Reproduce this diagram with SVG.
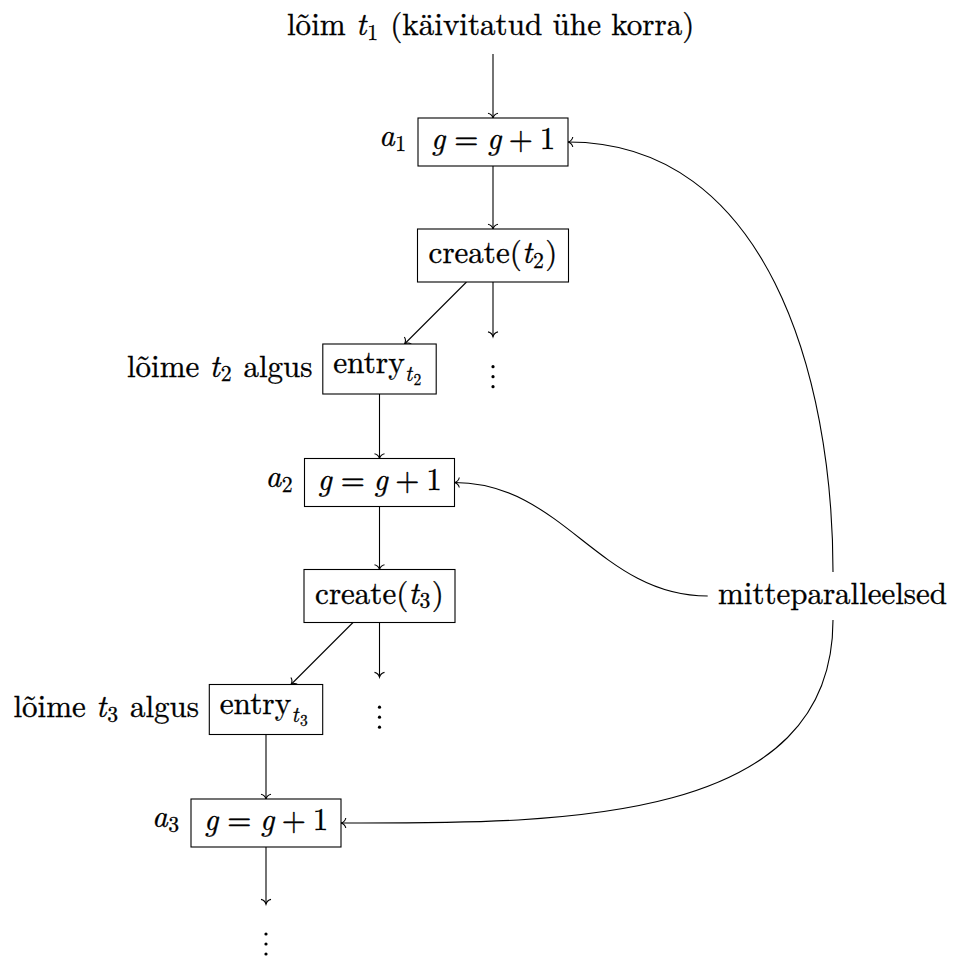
<svg xmlns="http://www.w3.org/2000/svg" width="953" height="958" viewBox="0 0 953 958" font-family="Latin Modern Roman, Liberation Serif, serif">
  <defs>
    <!-- open curved "to" arrow tip; tip sits on the path end -->
    <marker id="to" markerUnits="userSpaceOnUse" viewBox="-6 -6 7 12" refX="0" refY="0" markerWidth="7" markerHeight="12" orient="auto" overflow="visible">
      <path d="M -4.8,-5 C -4.2,-2.2 -1.8,-0.5 0,0 C -1.8,0.5 -4.2,2.2 -4.8,5" fill="none" stroke="#000" stroke-width="1.1"/>
    </marker>
  </defs>
  <style>
    text { font-family: Latin Modern Roman, Liberation Serif, serif; font-size: 31px; fill: #000; stroke: #000; stroke-width: 0.35px; }
    .m { font-style: italic; }
    .s { font-size: 21.7px; stroke-width: 0.3px; }
    .ss { font-size: 15.5px; stroke-width: 0.3px; }
    .box { fill: #fff; stroke: #000; stroke-width: 1.1; }
    .edge { fill: none; stroke: #000; stroke-width: 1.1; marker-end: url(#to); }
    .dot { fill: #000; }
  </style>
  <rect width="953" height="958" fill="#fff"/>

  <!-- connectors -->
  <g id="edges">
    <path class="edge" d="M493,54 V118"/>
    <path class="edge" d="M493,166 V229"/>
    <path class="edge" d="M466.5,282 L404.5,344"/>
    <path class="edge" d="M493,282 V336.7"/>
    <path class="edge" d="M379.5,394 V458.5"/>
    <path class="edge" d="M379.5,506.5 V569.5"/>
    <path class="edge" d="M353,622.5 L291,684.5"/>
    <path class="edge" d="M379.5,622.5 V677.2"/>
    <path class="edge" d="M266,734.5 V799"/>
    <path class="edge" d="M266,847 V904.2"/>
    <path class="edge" d="M833,572 C833,374.3 766,142 568,142"/>
    <path class="edge" d="M707.7,596 C599.1,596 563.1,482.5 454.5,482.5"/>
    <path class="edge" d="M833,620 C833,828.4 549.4,823 341,823"/>
  </g>

  <!-- thread title -->
  <g id="title">
    <text x="287" y="35" textLength="58.6" lengthAdjust="spacingAndGlyphs">lõim</text>
    <text class="m" x="356" y="35">t</text>
    <text class="s" x="367.3" y="39.6">1</text>
    <text x="390.2" y="35" textLength="304.2" lengthAdjust="spacingAndGlyphs">(käivitatud ühe korra)</text>
  </g>

  <!-- a1 : g = g + 1 -->
  <g id="a1" transform="translate(493,142)">
    <rect class="box" x="-75" y="-24" width="150" height="48"/>
    <text class="m" x="-62.1" y="7">g</text>
    <text x="-38.7" y="7">=</text>
    <text class="m" x="-6" y="7">g</text>
    <text x="15.7" y="7">+</text>
    <text x="46.7" y="7">1</text>
    <text class="m" x="-114.1" y="4.4">a</text>
    <text class="s" x="-97.7" y="9">1</text>
  </g>

  <!-- create(t2) -->
  <g id="create2" transform="translate(493,255.5)">
    <rect class="box" x="-75.5" y="-26.5" width="151" height="53"/>
    <text x="-64.4" y="7.75" textLength="93.1" lengthAdjust="spacingAndGlyphs">create(</text>
    <text class="m" x="29" y="7.75">t</text>
    <text class="s" x="40" y="12.4">2</text>
    <text x="52.3" y="7.75">)</text>
  </g>

  <!-- continuation after create(t2) -->
  <g id="cont1">
    <circle class="dot" cx="493" cy="366.7" r="1.6"/>
    <circle class="dot" cx="493" cy="376.7" r="1.6"/>
    <circle class="dot" cx="493" cy="386.7" r="1.6"/>
  </g>

  <!-- entry of t2 -->
  <g id="entry2" transform="translate(379.5,369)">
    <rect class="box" x="-56.7" y="-25" width="113.4" height="50"/>
    <text x="-46.35" y="4.4" textLength="71.6" lengthAdjust="spacingAndGlyphs">entry</text>
    <text class="m s" x="25.5" y="12.4">t</text>
    <text class="ss" x="34" y="16">2</text>
    <text x="-252.6" y="7.75" textLength="72.3" lengthAdjust="spacingAndGlyphs">lõime</text>
    <text class="m" x="-170" y="7.75">t</text>
    <text class="s" x="-158.8" y="12.4">2</text>
    <text x="-136.1" y="7.75" textLength="69.1" lengthAdjust="spacingAndGlyphs">algus</text>
  </g>

  <!-- a2 : g = g + 1 -->
  <g id="a2" transform="translate(379.5,482.5)">
    <rect class="box" x="-75" y="-24" width="150" height="48"/>
    <text class="m" x="-62.1" y="7">g</text>
    <text x="-38.7" y="7">=</text>
    <text class="m" x="-6" y="7">g</text>
    <text x="15.7" y="7">+</text>
    <text x="46.7" y="7">1</text>
    <text class="m" x="-114.1" y="4.4">a</text>
    <text class="s" x="-97.7" y="9">2</text>
  </g>

  <!-- create(t3) -->
  <g id="create3" transform="translate(379.5,596)">
    <rect class="box" x="-75.5" y="-26.5" width="151" height="53"/>
    <text x="-64.4" y="7.75" textLength="93.1" lengthAdjust="spacingAndGlyphs">create(</text>
    <text class="m" x="29" y="7.75">t</text>
    <text class="s" x="40" y="12.4">3</text>
    <text x="52.3" y="7.75">)</text>
  </g>

  <!-- continuation after create(t3) -->
  <g id="cont2">
    <circle class="dot" cx="379.5" cy="707.2" r="1.6"/>
    <circle class="dot" cx="379.5" cy="717.2" r="1.6"/>
    <circle class="dot" cx="379.5" cy="727.2" r="1.6"/>
  </g>

  <!-- entry of t3 -->
  <g id="entry3" transform="translate(266,709.5)">
    <rect class="box" x="-56.7" y="-25" width="113.4" height="50"/>
    <text x="-46.35" y="4.4" textLength="71.6" lengthAdjust="spacingAndGlyphs">entry</text>
    <text class="m s" x="25.5" y="12.4">t</text>
    <text class="ss" x="34" y="16">3</text>
    <text x="-252.6" y="7.75" textLength="72.3" lengthAdjust="spacingAndGlyphs">lõime</text>
    <text class="m" x="-170" y="7.75">t</text>
    <text class="s" x="-158.8" y="12.4">3</text>
    <text x="-136.1" y="7.75" textLength="69.1" lengthAdjust="spacingAndGlyphs">algus</text>
  </g>

  <!-- a3 : g = g + 1 -->
  <g id="a3" transform="translate(266,823)">
    <rect class="box" x="-75" y="-24" width="150" height="48"/>
    <text class="m" x="-62.1" y="7">g</text>
    <text x="-38.7" y="7">=</text>
    <text class="m" x="-6" y="7">g</text>
    <text x="15.7" y="7">+</text>
    <text x="46.7" y="7">1</text>
    <text class="m" x="-114.1" y="4.4">a</text>
    <text class="s" x="-97.7" y="9">3</text>
  </g>

  <!-- continuation after a3 -->
  <g id="cont3">
    <circle class="dot" cx="266" cy="934" r="1.6"/>
    <circle class="dot" cx="266" cy="944" r="1.6"/>
    <circle class="dot" cx="266" cy="954" r="1.6"/>
  </g>

  <!-- shared annotation -->
  <g id="note">
    <text x="718" y="603.75" textLength="229" lengthAdjust="spacingAndGlyphs">mitteparalleelsed</text>
  </g>
</svg>
